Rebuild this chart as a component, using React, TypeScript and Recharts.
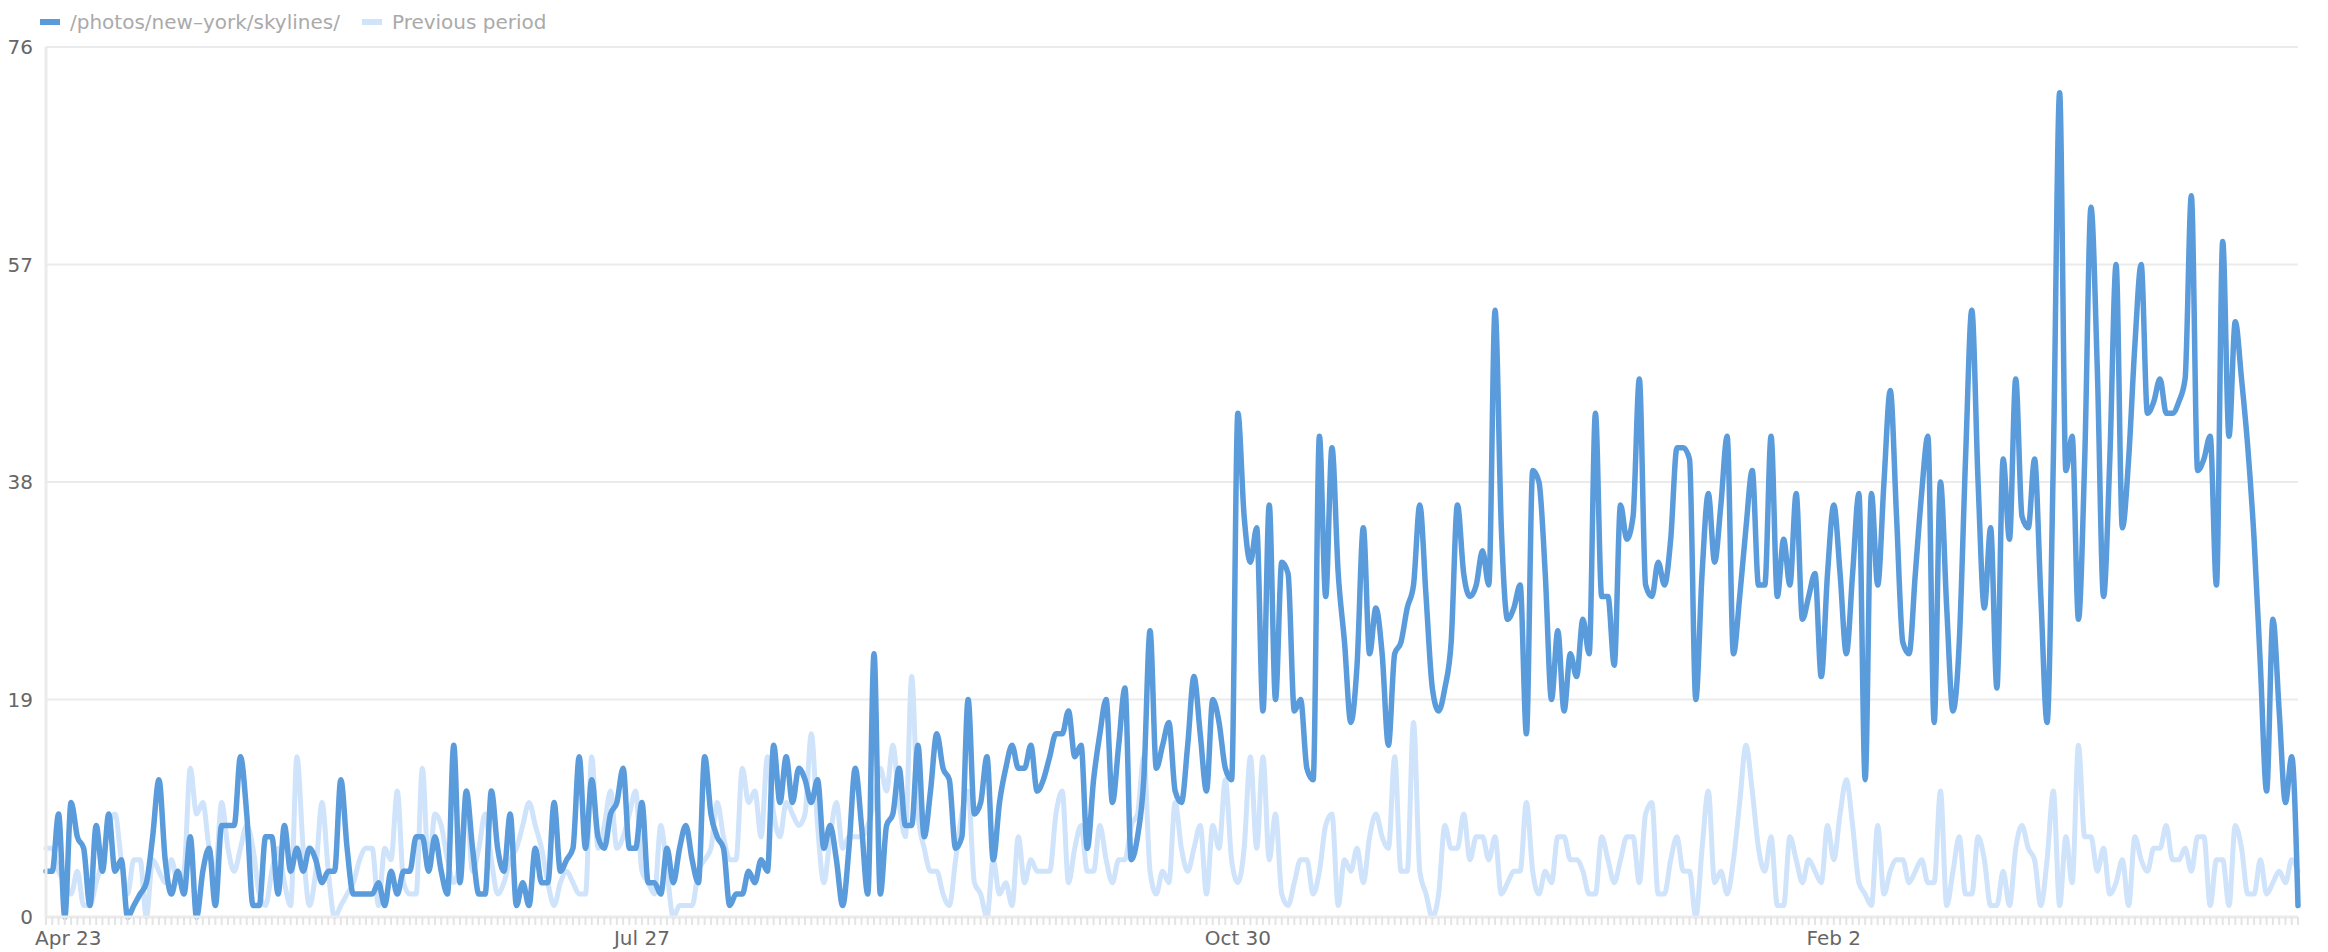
import React from "react";
import { LineChart, Line, XAxis, YAxis, CartesianGrid } from "recharts";

// ---- data ----
const seriesNames = ["/photos/new–york/skylines/", "Previous period"];
const tickLabels = ["Apr 23", "Jul 27", "Oct 30", "Feb 2"];
const yTicks = [0, 19, 38, 57, 76];
const MONTHS = ["Jan", "Feb", "Mar", "Apr", "May", "Jun", "Jul", "Aug", "Sep", "Oct", "Nov", "Dec"];

const current = [
  4, 4, 9, 0, 10, 7, 6, 1, 8, 4,
  9, 4, 5, 0, 1, 2, 3, 7, 12, 5,
  2, 4, 2, 7, 0, 4, 6, 1, 8, 8,
  8, 14, 9, 1, 1, 7, 7, 2, 8, 4,
  6, 4, 6, 5, 3, 4, 4, 12, 6, 2,
  2, 2, 2, 3, 1, 4, 2, 4, 4, 7,
  7, 4, 7, 4, 2, 15, 3, 11, 6, 2,
  2, 11, 6, 4, 9, 1, 3, 1, 6, 3,
  3, 10, 4, 5, 6, 14, 6, 12, 7, 6,
  9, 10, 13, 6, 6, 10, 3, 3, 2, 6,
  3, 6, 8, 5, 3, 14, 9, 7, 6, 1,
  2, 2, 4, 3, 5, 4, 15, 10, 14, 10,
  13, 12, 10, 12, 6, 8, 5, 1, 6, 13,
  8, 2, 23, 2, 8, 9, 13, 8, 8, 15,
  7, 11, 16, 13, 12, 6, 7, 19, 9, 10,
  14, 5, 10, 13, 15, 13, 13, 15, 11, 12,
  14, 16, 16, 18, 14, 15, 6, 12, 16, 19,
  10, 15, 20, 5, 7, 12, 25, 13, 15, 17,
  11, 10, 15, 21, 16, 11, 19, 17, 13, 12,
  44, 35, 31, 34, 18, 36, 19, 31, 30, 18,
  19, 13, 12, 42, 28, 41, 30, 24, 17, 22,
  34, 23, 27, 23, 15, 23, 24, 27, 29, 36,
  28, 20, 18, 20, 24, 36, 30, 28, 29, 32,
  29, 53, 34, 26, 27, 29, 16, 39, 38, 30,
  19, 25, 18, 23, 21, 26, 23, 44, 28, 28,
  22, 36, 33, 35, 47, 29, 28, 31, 29, 33,
  41, 41, 40, 19, 30, 37, 31, 36, 42, 23,
  28, 34, 39, 29, 29, 42, 28, 33, 29, 37,
  26, 28, 30, 21, 30, 36, 30, 23, 30, 37,
  12, 37, 29, 38, 46, 35, 24, 23, 30, 37,
  42, 17, 38, 27, 18, 24, 40, 53, 38, 27,
  34, 20, 40, 33, 47, 35, 34, 40, 28, 17,
  40, 72, 39, 42, 26, 40, 62, 48, 28, 40,
  57, 34, 40, 50, 57, 44, 45, 47, 44, 44,
  45, 47, 63, 39, 40, 42, 29, 59, 42, 52,
  47, 41, 33, 22, 11, 26, 18, 10, 14, 1,
];

const previous = [
  6, 6, 4, 3, 2, 4, 1, 1, 3, 5,
  8, 9, 5, 2, 5, 5, 0, 5, 4, 3,
  5, 3, 4, 13, 9, 10, 6, 4, 10, 6,
  4, 6, 8, 6, 2, 1, 4, 6, 3, 1,
  14, 6, 1, 4, 10, 4, 0, 1, 2, 3,
  5, 6, 6, 1, 6, 5, 11, 3, 2, 2,
  13, 4, 9, 8, 5, 3, 5, 10, 4, 6,
  9, 5, 2, 3, 5, 6, 8, 10, 8, 6,
  3, 1, 3, 4, 3, 2, 2, 14, 6, 8,
  11, 6, 7, 9, 11, 4, 3, 2, 8, 4,
  0, 1, 1, 1, 4, 5, 6, 10, 7, 5,
  5, 13, 10, 11, 7, 14, 9, 7, 10, 9,
  8, 9, 16, 8, 3, 7, 10, 6, 7, 7,
  7, 8, 10, 13, 11, 15, 10, 7, 21, 9,
  6, 4, 4, 2, 1, 5, 9, 11, 3, 2,
  0, 5, 2, 3, 1, 7, 3, 5, 4, 4,
  4, 9, 11, 3, 6, 8, 4, 4, 8, 5,
  3, 5, 5, 8, 9, 14, 4, 2, 4, 3,
  10, 6, 4, 6, 8, 2, 8, 6, 12, 5,
  3, 6, 14, 6, 14, 5, 9, 2, 1, 3,
  5, 5, 2, 4, 8, 9, 1, 5, 4, 6,
  3, 7, 9, 7, 6, 14, 4, 4, 17, 4,
  2, 0, 2, 8, 6, 6, 9, 5, 7, 7,
  5, 7, 2, 3, 4, 4, 10, 4, 2, 4,
  3, 7, 7, 5, 5, 4, 2, 2, 7, 5,
  3, 5, 7, 7, 3, 9, 10, 2, 2, 5,
  7, 4, 4, 0, 6, 11, 3, 4, 2, 5,
  10, 15, 11, 6, 4, 7, 1, 1, 7, 5,
  3, 5, 4, 3, 8, 5, 9, 12, 8, 3,
  2, 1, 8, 2, 4, 5, 5, 3, 4, 5,
  3, 3, 11, 1, 4, 7, 2, 2, 7, 5,
  1, 1, 4, 1, 6, 8, 6, 5, 1, 5,
  11, 1, 7, 3, 15, 7, 7, 4, 6, 2,
  3, 5, 1, 7, 5, 4, 6, 6, 8, 5,
  5, 6, 4, 7, 7, 1, 5, 5, 1, 8,
  6, 2, 2, 5, 2, 3, 4, 3, 5, 4,
];

// one category per day, starting Apr 23
const categories = current.map((_, i) => {
  const d = new Date(Date.UTC(2018, 3, 23 + i));
  return `${MONTHS[d.getUTCMonth()]} ${d.getUTCDate()}`;
});

const data = categories.map((date, i) => ({
  date,
  current: current[i],
  previous: previous[i],
}));

// ---- style ----
const FONT = "'DejaVu Sans', sans-serif";
const DARK = "#5a9bdc";
const LIGHT = "#cfe3fb";
const GRID = "#ebebeb";

const XTick = (props: any) => {
  const { x, y, payload, index } = props;
  if (!tickLabels.includes(payload.value)) return null;
  const first = index === 0;
  return (
    <text
      x={first ? x - 11 : x}
      y={y + 18}
      textAnchor={first ? "start" : "middle"}
      fill="#666"
      fontSize={20}
      fontFamily={FONT}
    >
      {payload.value}
    </text>
  );
};

const YTick = (props: any) => {
  const { y, payload } = props;
  return (
    <text x={33} y={y + 7} textAnchor="end" fill="#666" fontSize={20} fontFamily={FONT}>
      {payload.value}
    </text>
  );
};

export default function App() {
  return (
    <div style={{ position: "absolute", left: 0, top: 0, width: 2328, height: 952, background: "#fff" }}>
      <div
        style={{
          position: "absolute",
          left: 0,
          top: 10,
          height: 24,
          display: "flex",
          alignItems: "center",
          fontFamily: FONT,
          fontSize: 20,
          color: "#aaa",
          whiteSpace: "nowrap",
        }}
      >
        <span style={{ display: "inline-block", marginLeft: 40, width: 20, height: 6, background: DARK }} />
        <span style={{ marginLeft: 10 }}>{seriesNames[0]}</span>
        <span style={{ display: "inline-block", marginLeft: 22, width: 20, height: 6, background: LIGHT }} />
        <span style={{ marginLeft: 10 }}>{seriesNames[1]}</span>
      </div>
      <LineChart
        width={2328}
        height={952}
        data={data}
        margin={{ top: 47, right: 30, left: 6, bottom: 0 }}
      >
        <CartesianGrid vertical={false} stroke={GRID} strokeWidth={2} />
        <XAxis
          dataKey="date"
          interval={0}
          height={35}
          tick={<XTick />}
          tickSize={8}
          tickLine={{ stroke: "#e4e4e4", strokeWidth: 2 }}
          axisLine={{ stroke: GRID, strokeWidth: 3 }}
        />
        <YAxis
          domain={[0, 76]}
          ticks={yTicks}
          interval={0}
          width={40}
          tick={<YTick />}
          tickLine={false}
          axisLine={{ stroke: GRID, strokeWidth: 3 }}
        />
        <Line
          type="monotone"
          dataKey="previous"
          stroke={LIGHT}
          strokeWidth={5}
          dot={false}
          activeDot={false}
          strokeLinejoin="round"
          strokeLinecap="round"
          isAnimationActive={false}
        />
        <Line
          type="monotone"
          dataKey="current"
          stroke={DARK}
          strokeWidth={5.5}
          dot={false}
          activeDot={false}
          strokeLinejoin="round"
          strokeLinecap="round"
          isAnimationActive={false}
        />
      </LineChart>
    </div>
  );
}
